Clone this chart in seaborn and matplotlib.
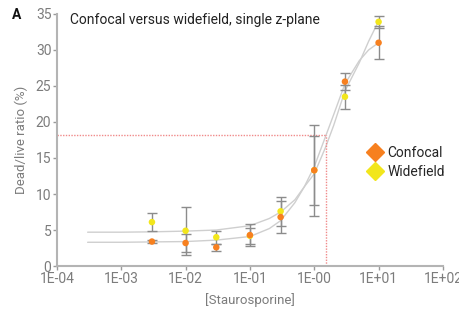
import matplotlib
matplotlib.use("Agg")
import matplotlib.pyplot as plt
from matplotlib.lines import Line2D
import numpy as np
import pandas as pd
import seaborn as sns

# measured points (mean +/- error)
conc = [3e-3, 1e-2, 3e-2, 1e-1, 3e-1, 1.0, 3.0, 10.0]
confocal = [3.4, 3.2, 2.6, 4.3, 6.8, 13.3, 25.6, 31.0]
confocal_err = [0.2, 1.2, 0.5, 1.5, 2.2, 4.8, 1.2, 2.3]
widefield = [6.1, 4.9, 4.0, 4.2, 7.6, 13.3, 23.5, 33.9]
widefield_err = [1.2, 3.3, 0.9, 1.1, 2.0, 6.3, 1.7, 0.8]

# fitted curves
fit_conc = [3e-4, 1e-3, 3e-3, 1e-2, 3e-2, 1e-1, 2e-1, 3e-1, 5e-1, 7e-1,
            1.0, 1.5, 2.0, 3.0, 5.0, 7.0, 10.0]
confocal_fit = [3.3, 3.3, 3.35, 3.4, 3.6, 4.1, 5.2, 6.3, 8.8, 11.0,
                13.8, 18.0, 21.0, 25.3, 28.5, 30.0, 31.0]
widefield_fit = [4.7, 4.7, 4.75, 4.85, 5.0, 5.6, 6.6, 7.5, 9.2, 11.0,
                 12.8, 16.5, 19.5, 24.3, 28.2, 31.2, 34.0]

# reference lines
ref_conc = 1.5
ref_value = 18.2

x_ticks = [1e-4, 1e-3, 1e-2, 1e-1, 1e0, 1e1, 1e2]
x_tick_labels = ["1E-04", "1E-03", "1E-02", "1E-01", "1E-00", "1E+01", "1E+02"]
y_ticks = [0, 5, 10, 15, 20, 25, 30, 35]

orange = "#f7801f"
yellow = "#f2e61c"
grey_txt = "#7c7c7c"

sns.set_theme(style="ticks")
plt.rcParams["font.family"] = ["Roboto", "DejaVu Sans"]

fig = plt.figure(figsize=(4.59, 3.09), dpi=100)
ax = fig.add_axes([0.124, 0.139, 0.841, 0.816])

fits = pd.DataFrame({"conc": fit_conc + fit_conc,
                     "value": confocal_fit + widefield_fit,
                     "series": ["Confocal"] * len(fit_conc) + ["Widefield"] * len(fit_conc)})
sns.lineplot(data=fits, x="conc", y="value", units="series", estimator=None,
             color="#cfcfcf", lw=1, ax=ax, legend=False)

ax.hlines(ref_value, 1e-4, ref_conc, color="#f08a8a", lw=1, ls=(0, (1, 1)))
ax.vlines(ref_conc, 0, ref_value, color="#f08a8a", lw=1, ls=(0, (1, 1)))

ax.errorbar(conc, widefield, yerr=widefield_err, fmt="none", ecolor="#8c8c8c",
            elinewidth=1, capsize=3.5, capthick=1)
ax.errorbar(conc, confocal, yerr=confocal_err, fmt="none", ecolor="#8c8c8c",
            elinewidth=1, capsize=3.5, capthick=1)

pts = pd.DataFrame({"conc": conc + conc,
                    "value": widefield + confocal,
                    "series": ["Widefield"] * len(conc) + ["Confocal"] * len(conc)})
sns.scatterplot(data=pts, x="conc", y="value", hue="series",
                palette={"Widefield": yellow, "Confocal": orange},
                s=22, linewidth=0, ax=ax, legend=False, zorder=5)

ax.set_xscale("log")
ax.set_xlim(1e-4, 1e2)
ax.set_ylim(0, 35)
ax.set_xticks(x_ticks)
ax.set_xticklabels(x_tick_labels)
ax.minorticks_off()
ax.set_yticks(y_ticks)
ax.tick_params(axis="both", colors="#9a9a9a", labelcolor=grey_txt, labelsize=10,
               length=3, width=1, pad=1)
sns.despine(ax=ax)
for side in ["left", "bottom"]:
    ax.spines[side].set_color("#b4b4b4")
    ax.spines[side].set_linewidth(1.5)

ax.set_xlabel("[Staurosporine]", color=grey_txt, fontsize=9.5, labelpad=5)
ax.set_ylabel("Dead/live ratio (%)", color=grey_txt, fontsize=9.5, labelpad=6)

ax.text(0.034, 0.976, "Confocal versus widefield, single z-plane",
        transform=ax.transAxes, fontsize=10, color="#222222", va="center", ha="left")
fig.text(0.026, 0.951, "A", fontsize=10, fontweight="bold", color="#111111",
         va="center", ha="left")

handles = [Line2D([], [], marker="D", ls="none", color=orange, markersize=9, label="Confocal"),
           Line2D([], [], marker="D", ls="none", color=yellow, markersize=9, label="Widefield")]
ax.legend(handles=handles, loc="center left", bbox_to_anchor=(0.77, 0.41),
          frameon=False, fontsize=10, handletextpad=0.3, labelspacing=0.35,
          handlelength=1.2)

fig.savefig("out.png", dpi=100)
